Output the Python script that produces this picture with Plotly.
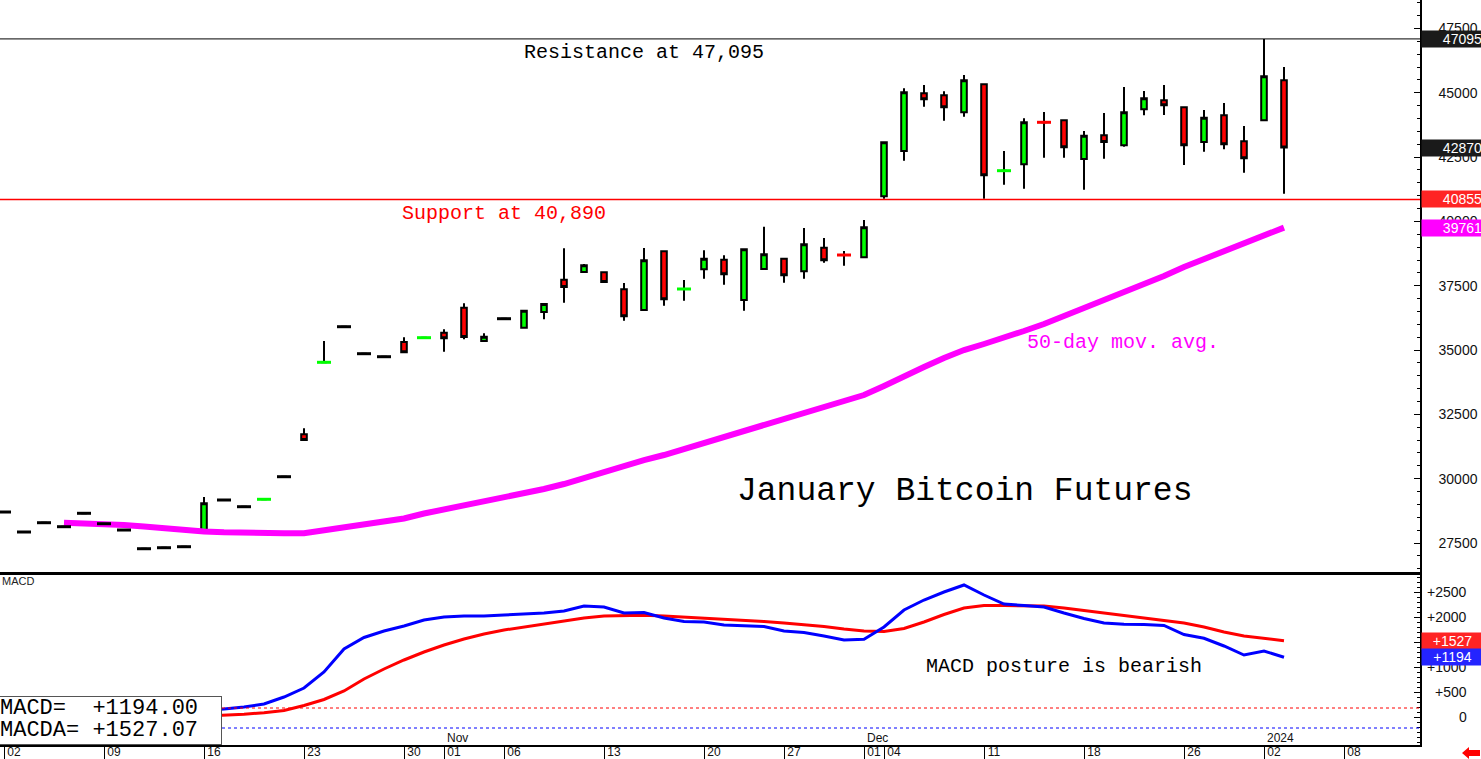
import plotly.graph_objects as go

# ---------------- data ----------------
DATES = [
    "2023-10-02", "2023-10-03", "2023-10-04", "2023-10-05", "2023-10-06",
    "2023-10-09", "2023-10-10", "2023-10-11", "2023-10-12", "2023-10-13",
    "2023-10-16", "2023-10-17", "2023-10-18", "2023-10-19", "2023-10-20",
    "2023-10-23", "2023-10-24", "2023-10-25", "2023-10-26", "2023-10-27",
    "2023-10-30", "2023-10-31",
    "2023-11-01", "2023-11-02", "2023-11-03",
    "2023-11-06", "2023-11-07", "2023-11-08", "2023-11-09", "2023-11-10",
    "2023-11-13", "2023-11-14", "2023-11-15", "2023-11-16", "2023-11-17",
    "2023-11-20", "2023-11-21", "2023-11-22", "2023-11-24",
    "2023-11-27", "2023-11-28", "2023-11-29", "2023-11-30",
    "2023-12-01",
    "2023-12-04", "2023-12-05", "2023-12-06", "2023-12-07", "2023-12-08",
    "2023-12-11", "2023-12-12", "2023-12-13", "2023-12-14", "2023-12-15",
    "2023-12-18", "2023-12-19", "2023-12-20", "2023-12-21", "2023-12-22",
    "2023-12-26", "2023-12-27", "2023-12-28", "2023-12-29",
    "2024-01-02", "2024-01-03",
]
FUTURE_DATES = ["2024-01-04", "2024-01-05", "2024-01-08", "2024-01-09",
                "2024-01-10", "2024-01-11", "2024-01-12"]

OPEN = [28705, 27928, 28289, 28134, 28655, 28250, 28005, 27278, 27317, 27356,
        27939, 29172, 28911, 29199, 30077, 31726, 34524, 35908, 34859, 34742,
        35313, 35481, 35675, 36647, 35352, 36219, 35869, 36480, 37735, 38034,
        38023, 37362, 36557, 38839, 37374, 38140, 38513, 36946, 38151, 38552,
        38062, 38979, 38695, 38606, 40977, 42738, 44981, 44903, 44242, 45331,
        41973, 42221, 43854, 43932, 42427, 43349, 42960, 44359, 44709, 44437,
        43088, 44127, 43115, 43932, 45486]
HIGH = [28705, 27928, 28289, 28134, 28655, 28250, 28005, 27278, 27317, 27356,
        29288, 29172, 28911, 29199, 30077, 31959, 35352, 35908, 34859, 34742,
        35496, 35481, 35807, 36818, 35652, 36219, 36530, 36791, 38956, 38345,
        38023, 37607, 38968, 38839, 37724, 38878, 38684, 38956, 39796, 38552,
        39745, 39356, 38851, 40056, 43077, 45176, 45304, 45059, 45693, 45331,
        42738, 44010, 44255, 43932, 43516, 44216, 45226, 45071, 45304, 44437,
        44332, 44604, 43710, 47095, 46003]
LOW = [28705, 27928, 28289, 28134, 28655, 28250, 28005, 27278, 27317, 27356,
       27939, 29172, 28911, 29199, 30077, 31504, 34524, 35908, 34859, 34742,
       34913, 35481, 34936, 35419, 35352, 36219, 35869, 36196, 36841, 38034,
       37646, 36142, 36557, 36725, 36919, 37774, 37541, 36530, 38151, 37619,
       37774, 38396, 38280, 38606, 40884, 42361, 44460, 43917, 44072, 40884,
       41428, 41273, 42478, 42478, 41234, 42439, 42906, 44125, 44138, 42194,
       42711, 42805, 41895, 43932, 41078]
CLOSE = [28705, 27928, 28289, 28134, 28655, 28250, 28005, 27278, 27317, 27356,
         29043, 29172, 28911, 29199, 30077, 31504, 34524, 35908, 34859, 34742,
         34913, 35481, 35457, 35508, 35520, 36219, 36530, 36791, 37452, 38295,
         37646, 36313, 38490, 36973, 37374, 38552, 37945, 38917, 38723, 37907,
         39111, 38490, 38695, 39772, 43077, 45020, 44748, 44437, 45486, 41794,
         41973, 43854, 43854, 42882, 43333, 43088, 44242, 44787, 44515, 42960,
         44034, 42999, 42454, 45642, 42870]

GREEN_DOJI = ["2023-10-19", "2023-10-24", "2023-10-31", "2023-11-17", "2023-12-12"]
RED_DOJI = ["2023-11-30", "2023-12-14"]

MA50_START = "2023-10-05"
MA50 = [28289, 28277, 28239, 28200, 28141, 28064, 27986, 27947, 27916, 27889,
        27877, 27877, 27877, 27986, 28122, 28250, 28355, 28452, 28647, 28802,
        28938, 29094, 29249, 29405, 29599, 29793, 30027, 30299, 30493, 30726,
        30921, 31154, 31348, 31582, 31815, 32048, 32281, 32515, 32748, 32981,
        33253, 33603, 33992, 34342, 34691, 35002, 35236, 35469, 35741, 36013,
        36324, 36596, 36907, 37218, 37529, 37879, 38229, 38540, 38851, 39123,
        39434, 39761]

MACD_START = "2023-10-13"
MACD = [120, 130, 160, 200, 260, 400, 580, 900, 1360, 1590,
        1720, 1820, 1940, 2000, 2020, 2020, 2040, 2060, 2080, 2120,
        2220, 2200, 2080, 2090, 1980, 1910, 1900, 1840, 1830, 1810,
        1720, 1690, 1620, 1540, 1555, 1800, 2140, 2340, 2500, 2640,
        2440, 2260, 2230, 2200, 2080, 1970, 1880, 1855, 1850, 1830,
        1650, 1575, 1420, 1240, 1320, 1194.00]
SIGNAL = [0, 14, 30, 55, 85, 130, 230, 350, 520, 760,
          960, 1140, 1300, 1440, 1560, 1660, 1740, 1800, 1860, 1920,
          1980, 2020, 2030, 2034, 2020, 2000, 1980, 1960, 1940, 1910,
          1880, 1850, 1810, 1760, 1720, 1710, 1770, 1900, 2050, 2180,
          2230, 2230, 2230, 2220, 2180, 2130, 2080, 2030, 1990, 1940,
          1880, 1800, 1700, 1620, 1570, 1527.07]

RESISTANCE = 47095
SUPPORT_LINE = 40855
MACD_REF_RED = 180
MACD_REF_BLUE = -220

TICK_DATES = ["2023-10-02", "2023-10-09", "2023-10-16", "2023-10-23", "2023-10-30",
              "2023-11-01", "2023-11-06", "2023-11-13", "2023-11-20", "2023-11-27",
              "2023-12-01", "2023-12-04", "2023-12-11", "2023-12-18", "2023-12-26",
              "2024-01-02", "2024-01-08"]
TICK_LABELS = ["02", "09", "16", "23", "30", "01", "06", "13", "20", "27",
               "01", "04", "11", "18", "26", "02", "08"]
PERIOD_MARKS = [("2023-11-01", "Nov"), ("2023-12-01", "Dec"), ("2024-01-02", "2024")]

PRICE_TICKS = [27500, 30000, 32500, 35000, 37500, 40000, 42500, 45000, 47500]
MACD_TICKS = [0, 500, 1000, 1500, 2000, 2500]

# ---------------- helpers ----------------
ALL_DATES = DATES + FUTURE_DATES
IDX = {d: i for i, d in enumerate(ALL_DATES)}
X = [IDX[d] for d in DATES]
ma_x = X[IDX[MA50_START]:]
macd_x = X[IDX[MACD_START]:]

GREEN = "#00ff00"
RED = "#ff0000"
MAGENTA = "#ff00ff"
BLUE = "#0000ff"
MONO = "Liberation Mono, DejaVu Sans Mono, monospace"
SANS = "Liberation Sans, Arial, sans-serif"

PB = (745 - 572) / 745.0  # boundary between panels (paper)

fig = go.Figure()

# 50-day moving average
fig.add_trace(go.Scatter(x=ma_x, y=MA50, mode="lines", xaxis="x2", yaxis="y",
                         line=dict(color=MAGENTA, width=6), hoverinfo="skip"))

# candles
fig.add_trace(go.Candlestick(
    x=X, open=OPEN, high=HIGH, low=LOW, close=CLOSE, xaxis="x2", yaxis="y",
    increasing=dict(fillcolor=GREEN, line=dict(color="black", width=2)),
    decreasing=dict(fillcolor=RED, line=dict(color="black", width=2)),
    whiskerwidth=0, hoverinfo="skip", showlegend=False))

# flat / doji marks
dx, dy, dc = [], [], []
for i, d in enumerate(DATES):
    if OPEN[i] == CLOSE[i]:
        dx.append(X[i])
        dy.append(CLOSE[i])
        if d in GREEN_DOJI:
            dc.append(GREEN)
        elif d in RED_DOJI:
            dc.append(RED)
        else:
            dc.append("black")
fig.add_trace(go.Scatter(x=dx, y=dy, mode="markers", xaxis="x2", yaxis="y",
                         marker=dict(symbol="line-ew", size=10,
                                     line=dict(color=dc, width=3)),
                         hoverinfo="skip"))

# MACD
fig.add_trace(go.Scatter(x=macd_x, y=SIGNAL, mode="lines", xaxis="x", yaxis="y2",
                         line=dict(color=RED, width=3), hoverinfo="skip"))
fig.add_trace(go.Scatter(x=macd_x, y=MACD, mode="lines", xaxis="x", yaxis="y2",
                         line=dict(color=BLUE, width=3), hoverinfo="skip"))

tickvals = [IDX[d] for d in TICK_DATES]

fig.update_layout(
    width=1481, height=759,
    margin=dict(l=0, r=61, t=0, b=14, autoexpand=False),
    paper_bgcolor="white", plot_bgcolor="white",
    showlegend=False,
    boxgap=0.6,
    xaxis=dict(domain=[0, 1], anchor="y2", range=[-0.2, 70.8], automargin=False,
               tickmode="array", tickvals=tickvals, ticktext=TICK_LABELS,
               ticks="outside", ticklen=14, tickcolor="black", tickwidth=1,
               showline=True, linecolor="black", linewidth=2,
               showgrid=False, zeroline=False,
               tickfont=dict(family=SANS, size=12, color="#111"),
               ticklabelshift=10, ticklabelstandoff=-19,
               rangeslider=dict(visible=False)),
    xaxis2=dict(domain=[0, 1], anchor="y", matches="x", showticklabels=False,
                automargin=False,
                ticks="", showline=True, linecolor="black", linewidth=3,
                showgrid=False, zeroline=False, rangeslider=dict(visible=False)),
    yaxis=dict(domain=[PB, 1], anchor="x2", side="right", range=[26373, 48608],
               automargin=False,
               tickmode="array", tickvals=PRICE_TICKS,
               ticktext=[str(v) for v in PRICE_TICKS],
               ticks="inside", ticklen=6, tickcolor="black",
               minor=dict(dtick=500, tick0=0, ticks="inside", ticklen=3, tickcolor="black"),
               showline=True, linecolor="black", linewidth=1.5,
               showgrid=False, zeroline=False,
               tickfont=dict(family=SANS, size=14, color="#111"),
               ticklabelstandoff=14),
    yaxis2=dict(domain=[0, PB], anchor="x", side="right", range=[-560, 2900],
                automargin=False,
                tickmode="array", tickvals=MACD_TICKS, showticklabels=False,
                ticks="inside", ticklen=6, tickcolor="black",
                minor=dict(dtick=100, tick0=0, ticks="inside", ticklen=3, tickcolor="black"),
                showline=True, linecolor="black", linewidth=1.5,
                showgrid=False, zeroline=False),
)

shapes = [
    dict(type="line", xref="paper", x0=0, x1=1, yref="y", y0=RESISTANCE, y1=RESISTANCE,
         line=dict(color="black", width=1)),
    dict(type="line", xref="paper", x0=0, x1=1, yref="y", y0=SUPPORT_LINE, y1=SUPPORT_LINE,
         line=dict(color=RED, width=1.5)),
    dict(type="line", xref="paper", x0=0, x1=1, yref="y2", y0=MACD_REF_RED, y1=MACD_REF_RED,
         line=dict(color=RED, width=1, dash="dot")),
    dict(type="line", xref="paper", x0=0, x1=1, yref="y2", y0=MACD_REF_BLUE, y1=MACD_REF_BLUE,
         line=dict(color=BLUE, width=1, dash="dot")),
    # small red arrow bottom-right
    dict(type="path", xref="paper", xsizemode="pixel", xanchor=1,
         yref="paper", ysizemode="pixel", yanchor=0,
         path="M 42 -8 L 49 -2 L 49 -5 L 60 -5 L 60 -11 L 49 -11 L 49 -14 Z",
         fillcolor=RED, line=dict(color=RED, width=0), layer="above"),
]
fig.update_layout(shapes=shapes)

ann = []
# period labels above the time axis
for d, t in PERIOD_MARKS:
    ann.append(dict(x=IDX[d], y=0, xref="x", yref="paper", text=t, showarrow=False,
                    xanchor="left", yanchor="bottom", xshift=1, yshift=-2,
                    font=dict(family=SANS, size=12, color="#111")))
# MACD axis labels (right aligned)
for v in MACD_TICKS:
    ann.append(dict(x=1, y=v, xref="paper", yref="y2", text=("0" if v == 0 else f"+{v}"),
                    showarrow=False, xanchor="right", yanchor="middle", xshift=49,
                    font=dict(family=SANS, size=14, color="#111")))


def value_box(y, yref, text, bg, align):
    return dict(x=1, y=y, xref="paper", yref=yref, text=text, showarrow=False,
                xanchor="left", yanchor="middle", xshift=1, width=59, height=14,
                align=align, bgcolor=bg, borderpad=1,
                font=dict(family=SANS, size=14, color="white"))


ann.append(value_box(RESISTANCE, "y", f"{RESISTANCE}", "#1a1a1a", "right"))
ann.append(value_box(CLOSE[-1], "y", f"{CLOSE[-1]}", "#1a1a1a", "right"))
ann.append(value_box(SUPPORT_LINE, "y", f"{SUPPORT_LINE}", "#ff2424", "right"))
ann.append(value_box(MA50[-1], "y", f"{MA50[-1]}", MAGENTA, "right"))
ann.append(value_box(SIGNAL[-1], "y2", f"{SIGNAL[-1]:+.0f}", "#ff2424", "center"))
ann.append(value_box(MACD[-1], "y2", f"{MACD[-1]:+.0f}", "#2424ff", "center"))

# chart texts
ann.append(dict(x=32.0, y=46586, xref="x2", yref="y", text="Resistance at 47,095",
                showarrow=False, font=dict(family=MONO, size=20, color="black")))
ann.append(dict(x=25.0, y=40328, xref="x2", yref="y", text="Support at 40,890",
                showarrow=False, font=dict(family=MONO, size=20, color=RED)))
ann.append(dict(x=55.95, y=35313, xref="x2", yref="y", text="50-day mov. avg.",
                showarrow=False, font=dict(family=MONO, size=20, color=MAGENTA)))
ann.append(dict(x=48.0, y=29483, xref="x2", yref="y", text="January Bitcoin Futures",
                showarrow=False, font=dict(family=MONO, size=33, color="black")))
ann.append(dict(x=52.98, y=1020, xref="x", yref="y2", text="MACD posture is bearish",
                showarrow=False, font=dict(family=MONO, size=20, color="black")))
ann.append(dict(x=0, y=2720, xref="paper", yref="y2", text="MACD", showarrow=False,
                xanchor="left", yanchor="middle",
                font=dict(family=SANS, size=11, color="#222")))

# MACD value box (white panel with border) and its two text lines
NB = "\u00a0"
ann.append(dict(x=222 / 1420.0, y=0, xref="paper", yref="paper", text=NB,
                showarrow=False, xanchor="right", yanchor="bottom",
                width=228, height=47, bgcolor="white",
                bordercolor="#555", borderwidth=1, borderpad=0))
ann.append(dict(x=0, y=(745 - 708) / 745.0, xref="paper", yref="paper",
                text=f"MACD={NB}{NB}{MACD[-1]:+.2f}", showarrow=False,
                xanchor="left", yanchor="middle", xshift=-2,
                font=dict(family=MONO, size=22, color="black")))
ann.append(dict(x=0, y=(745 - 730) / 745.0, xref="paper", yref="paper",
                text=f"MACDA={NB}{SIGNAL[-1]:+.2f}", showarrow=False,
                xanchor="left", yanchor="middle", xshift=-2,
                font=dict(family=MONO, size=22, color="black")))

fig.update_layout(annotations=ann)

fig.write_html("out.html")
